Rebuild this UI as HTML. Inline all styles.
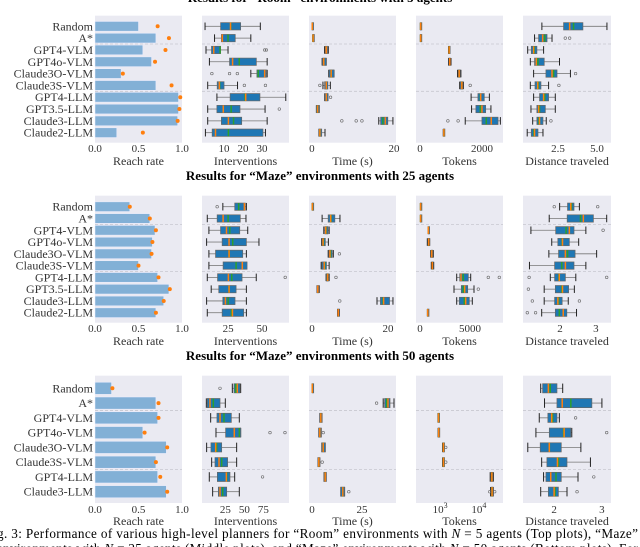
<!DOCTYPE html>
<html><head><meta charset="utf-8"><style>
body{margin:0;background:#fff;}
svg{display:block;font-family:"Liberation Serif",serif;}
</style></head><body>
<svg id="fig" width="640" height="547" viewBox="0 0 640 547" xmlns="http://www.w3.org/2000/svg">
<text x="320" y="2" text-anchor="middle" font-weight="bold" font-size="13">Results for “Room” environments with 5 agents</text>
<text x="320" y="180" text-anchor="middle" font-weight="bold" font-size="13">Results for “Maze” environments with 25 agents</text>
<text x="320" y="360" text-anchor="middle" font-weight="bold" font-size="13">Results for “Maze” environments with 50 agents</text>
<text x="-3" y="538" font-size="13.2" textLength="641" lengthAdjust="spacing">g. 3: Performance of various high-level planners for “Room” environments with <tspan font-style="italic">N</tspan> = 5 agents (Top plots), “Maze”</text>
<text x="-3" y="553" font-size="13.2" textLength="641" lengthAdjust="spacing">environments with <tspan font-style="italic">N</tspan> = 25 agents (Middle plots), and “Maze” environments with <tspan font-style="italic">N</tspan> = 50 agents (Bottom plots). For</text>
<g id="plots"></g>
</svg>
<script>
// ---- data ----
const cats10 = ["Random","A*","GPT4-VLM","GPT4o-VLM","Claude3O-VLM","Claude3S-VLM","GPT4-LLM","GPT3.5-LLM","Claude3-LLM","Claude2-LLM"];
const cats8 = ["Random","A*","GPT4-VLM","GPT4o-VLM","Claude3O-VLM","Claude3S-VLM","GPT4-LLM","Claude3-LLM"];
const xLabels = ["Reach rate","Interventions","Time (s)","Tokens","Distance traveled"];

// row 1: Room, 5 agents
const r1ReachBar = [0.5,0.7,0.55,0.65,0.3,0.7,0.96,0.96,0.95,0.25];
const r1ReachDot = [0.72,0.85,0.81,0.69,0.32,0.88,0.98,0.97,0.95,0.55];
// box: [whisLo, q1, median, q3, whisHi, mean, outliers]
const r1Interv = [
 [0,8.2,13.4,18.75,29.1,13.5,[]],[5,8.6,9.1,15.9,24.1,12.1,[]],[0.5,3.4,4.6,8.2,12.1,7.9,[31.4,32.3]],
 [2.3,12.9,14.5,27,32.7,18,[]],[24.1,27.3,31.4,32.3,32.7,28,[3.6,12.9,17]],[1.4,6.4,7.5,10,17.1,7.7,[20.7,31.8]],
 [6.25,13.2,21.4,28.9,42.5,21.1,[]],[1.4,6.25,9.6,18.4,31.6,13.75,[39.1]],[1.4,8.6,12.3,19.3,32.7,15,[]],
 [0.2,3.75,5.5,30.5,31.8,12.3,[]]];
const r1Time = [
 [0.05,0.05,0.1,0.2,0.2,0.1,[]],[0.2,0.25,0.3,0.35,0.4,0.3,[]],[3.1,3.3,3.5,3.8,4.0,3.5,[]],
 [2.5,2.6,2.9,3.5,3.5,2.9,[]],[4.1,4.2,4.7,5.4,5.4,4.7,[]],[2.7,3.1,3.5,3.9,4.5,3.5,[1.95]],
 [3.1,3.1,3.5,3.9,3.9,3.5,[4.55]],[1.1,1.1,1.4,1.8,1.8,1.4,[]],[16.3,16.75,17.9,18.5,19.75,17.3,[7.3,10.8,12.2]],
 [1.7,1.7,1.95,2.4,3.2,1.95,[]]];
const r1Tokens = [
 [10,10,20,30,30,20,[]],[10,10,20,30,30,20,[]],[920,925,940,955,960,940,[]],
 [920,930,960,980,1000,960,[]],[1210,1230,1265,1300,1320,1265,[]],[1280,1300,1350,1380,1400,1350,[1620]],
 [1650,1870,1960,2075,2240,1950,[]],[1665,1805,2000,2120,2290,1945,[]],[1460,2000,2300,2520,2595,2140,[900,1230]],
 [750,755,770,785,790,770,[]]];
const r1Dist = [
 [1.47,2.86,3.25,4.1,5.64,3.5,[]],[1.0,1.26,1.52,1.8,2.12,1.65,[2.97,3.25]],[0.56,0.79,0.94,1.15,1.58,0.98,[]],
 [0.73,1.0,1.11,1.62,2.6,1.22,[]],[0.94,1.73,2.12,2.44,3.3,2.22,[3.63]],[0.73,1.03,1.2,1.41,1.9,1.24,[2.56]],
 [0.94,1.32,1.58,1.9,2.33,1.65,[]],[0.77,1.15,1.26,1.69,2.33,1.32,[]],[0.88,1.15,1.32,1.54,1.75,1.28,[2.05]],
 [0.53,0.79,1.0,1.22,1.54,0.96,[]]];

// row 2: Maze, 25 agents
const r2ReachBar = [0.4,0.63,0.69,0.66,0.65,0.5,0.72,0.85,0.79,0.7];
const r2ReachDot = [0.4,0.63,0.7,0.66,0.65,0.5,0.73,0.86,0.79,0.7];
const r2Interv = [
 [21.1,29.9,37,37.7,38.5,32.8,[16.9]],[9.6,16.9,21.3,34,38.2,25,[]],[10.8,19.4,23.8,33.6,39.5,26.2,[]],
 [9.1,20.6,25.7,38.5,47.8,28.4,[]],[10.8,15.7,25.7,35.8,38.5,25.7,[]],[10.8,21.3,35.5,39,38.5,30.9,[]],
 [9.6,17.2,25.2,35.3,45.8,27.7,[67.2]],[12.5,18.1,25.7,30.9,38.5,25.7,[]],[9.1,21.1,23,30.1,38.5,25,[]],
 [9.6,20.6,28.2,36.5,38.5,27.5,[]]];
const r2Time = [
 [0.05,0.05,0.1,0.15,0.15,0.1,[]],[2.65,4.25,4.9,6.0,7.35,5.0,[]],[3.1,3.4,3.6,4.2,4.5,3.7,[]],
 [2.5,2.6,2.9,3.5,4.3,3.0,[]],[4.25,4.4,4.7,5.3,5.6,4.85,[7.2]],[2.4,2.6,3.2,3.8,4.5,3.3,[]],
 [3.7,3.8,4.1,4.3,4.5,4.1,[6.3]],[1.3,1.3,1.5,1.8,1.9,1.5,[]],[17.1,18,18.85,20.4,21.3,18.7,[7.3]],
 [6.7,6.7,6.9,7.2,7.2,6.9,[]]];
const r2Tokens = [
 [40,40,60,80,80,60,[]],[40,40,60,80,80,60,[]],[800,810,830,850,860,830,[]],
 [730,800,870,900,970,870,[]],[1070,1120,1170,1230,1330,1170,[]],[1130,1180,1230,1300,1370,1230,[]],
 [3670,3970,4100,4830,5070,4330,[6830,7930]],[3400,4130,4470,4770,5400,4330,[5830]],[3670,3930,4570,4930,5230,4430,[]],
 [740,750,770,790,800,770,[]]];
const r2Dist = [
 [1.99,2.21,2.3,2.39,2.54,2.32,[1.84,3.05]],[1.7,2.2,2.65,2.93,3.3,2.57,[]],[1.19,1.88,2.26,2.39,2.72,2.17,[3.2]],
 [1.77,1.94,2.07,2.26,2.52,2.06,[]],[1.69,1.96,2.15,2.42,3.02,2.21,[]],[1.15,1.85,2.15,2.39,2.72,2.05,[]],
 [1.73,1.85,1.98,2.15,2.44,1.97,[1.14,3.3]],[1.56,1.87,2.07,2.24,2.4,2.05,[1.12]],[1.56,1.85,1.94,2.06,2.23,1.96,[1.23,2.54]],
 [1.49,1.87,2.09,2.19,2.46,1.98,[1.09,1.32]]];

// row 3: Maze, 50 agents
const r3ReachBar = [0.19,0.7,0.72,0.55,0.82,0.7,0.72,0.82];
const r3ReachDot = [0.2,0.73,0.73,0.57,0.83,0.7,0.75,0.83];
const r3Interv = [
 [34.2,36.4,40.8,44.3,45.2,38.6,[18]],[0,1.3,4.8,18,25,9.2,[]],[5.7,14,18,32.9,43.4,23.2,[]],
 [12.7,25.4,36.8,45.2,45.2,43.4,[83.8,103.5]],[0.4,6.1,12.3,20.2,39.9,13.6,[]],[7,11.4,16.7,28,39.9,20.2,[]],
 [3.9,14.5,26.3,31.1,37.3,26.8,[74]],[8.3,15.8,18,26.8,43.4,21.5,[]]];
const r3Time = [
 [0.1,0.1,0.15,0.2,0.2,0.15,[]],[35.6,36.3,38,39,41,37.3,[32.3]],[3.9,3.9,4.4,5.0,5.0,4.4,[]],
 [3.4,3.4,3.9,4.6,4.6,3.9,[5.6]],[4.9,4.9,5.6,6.6,6.6,5.6,[]],[3.0,3.0,3.4,3.9,3.9,3.4,[5.1]],
 [6.0,6.0,6.6,7.1,7.1,6.6,[]],[14.4,14.4,15.4,16.3,16.3,15.4,[18.4]]];
const r3Tokens = [
 null,null,[880,890,910,930,940,910,[]],[890,900,920,940,950,920,[]],
 [1160,1180,1220,1260,1280,1220,[1400]],[1160,1180,1220,1260,1280,1220,[1400]],
 [19500,20500,21500,22500,23500,21500,[]],[20000,21000,21800,22600,23400,21800,[19000,25500]]];
const r3Dist = [
 [1.72,1.76,1.88,2.06,2.18,1.92,[]],[1.8,2.06,2.17,2.79,3.0,2.35,[]],[1.69,1.87,1.95,2.06,2.11,1.97,[2.45]],
 [1.62,1.9,2.21,2.35,2.37,2.2,[3.1]],[1.45,1.71,1.9,2.15,2.56,1.9,[]],[1.74,1.85,2.07,2.27,2.76,2.09,[]],
 [1.78,1.83,1.93,2.15,2.5,2.04,[2.83]],[1.72,1.88,2.0,2.09,2.27,2.02,[2.48]]];

// tick labels
const r1Ticks = [[0,0.5,1.0],[10,20,30],[0,20],[0,2000],[2.5,5.0]];
const r2Ticks = [[0,0.5,1.0],[25,50],[0,20],[0,5000],[2,3]];
const r3Ticks = [[0,0.5,1.0],[25,50,75],[0,25],[1000,10000],[2,3]];

// ---- layout (not data) ----
const NS = "http://www.w3.org/2000/svg";
const root = document.getElementById("plots");
const panelX = [[95,182],[202,289],[309,396],[416,503],[523,611]];
const rows = [
 {top:15.7,bot:142.7,first:26.3,sp:11.82,cats:cats10,tickY:152,labY:165,
  doms:[[0,1],[-1.6,44.2],[-0.7,20.5],[-130,2680],[0.26,5.9]],log:[0,0,0,0,0],
  reach:[r1ReachBar,r1ReachDot],boxes:[r1Interv,r1Time,r1Tokens,r1Dist],ticks:r1Ticks,name:"room-5"},
 {top:195.7,bot:322.7,first:206.7,sp:11.78,cats:cats10,tickY:332,labY:345,
  doms:[[0,1],[5.7,70],[-0.8,22.1],[-400,8300],[0.97,3.42]],log:[0,0,0,0,0],
  reach:[r2ReachBar,r2ReachDot],boxes:[r2Interv,r2Time,r2Tokens,r2Dist],ticks:r2Ticks,name:"maze-25"},
 {top:375.7,bot:503,first:388.3,sp:14.77,cats:cats8,tickY:513,labY:525,
  doms:[[0,1],[-5.7,108.8],[-1.5,42],[2.38,4.62],[1.35,3.19]],log:[0,0,0,1,0],
  reach:[r3ReachBar,r3ReachDot],boxes:[r3Interv,r3Time,r3Tokens,r3Dist],ticks:r3Ticks,name:"maze-50"}
];
function mk(tag, attrs, parent){
  const e=document.createElementNS(NS,tag);
  for(const k in attrs) e.setAttribute(k,attrs[k]);
  (parent||root).appendChild(e); return e;
}
function scale(row,p){
  const [a,b]=row.doms[p]; const [x0,x1]=panelX[p]; const lg=row.log[p];
  return v=>{const t=lg?Math.log10(v):v; return x0+(t-a)/(b-a)*(x1-x0);};
}
function fmtTick(v,p,ri){
  if(p===0||(ri===0&&p===4)) return v.toFixed(1);
  return String(v);
}
rows.forEach((row,ri)=>{
  const yc=i=>row.first+i*row.sp;
  for(let p=0;p<5;p++){
    const [x0,x1]=panelX[p];
    const g=mk("g",{});
    
    
    mk("rect",{x:x0,y:row.top,width:x1-x0,height:row.bot-row.top,fill:"#eaeaf2"},g);
    // dashed separators
    [1.5,5.5].forEach(s=>{
      const sy=yc(s);
      const l=mk("line",{x1:x0,x2:x1,y1:sy,y2:sy,stroke:"#c8c8d0","stroke-width":0.8,"stroke-dasharray":"3,2"},g);
      
      
    });
    const sx=scale(row,p);
    // tick labels
    row.ticks[p].forEach(tv=>{
      let t;
      if(row.log[p]){
        t=mk("text",{x:sx(tv),y:row.tickY,"text-anchor":"middle","font-size":11,fill:"#333"},g);
        t.textContent="10";
        const s=mk("tspan",{dy:-5,"font-size":8},t); s.textContent=String(Math.round(Math.log10(tv)));
      } else {
        t=mk("text",{x:sx(tv),y:row.tickY,"text-anchor":"middle","font-size":11,fill:"#333"},g);
        t.textContent=fmtTick(tv,p,ri);
      }
      
      
    });
    const xl=mk("text",{x:(x0+x1)/2,y:row.labY,"text-anchor":"middle","font-size":12,fill:"#333"},g);
    xl.textContent=xLabels[p];
    
    
    if(p===0){
      row.cats.forEach((c,i)=>{
        const lab=mk("text",{x:93,y:yc(i)+4,"text-anchor":"end","font-size":12,fill:"#333"},g);
        lab.textContent=c;
        
        
        const bh=row.sp*0.82;
        const bar=mk("rect",{x:sx(0),y:yc(i)-bh/2,width:sx(row.reach[0][i])-sx(0),height:bh,fill:"#82b0d6",stroke:"#eef",
          "stroke-width":0.5},g);
        
        
        const dot=mk("circle",{cx:sx(row.reach[1][i]),cy:yc(i),r:2,fill:"#ff7f0e"},g);
        
        
      });
    } else {
      const data=row.boxes[p-1];
      data.forEach((d,i)=>{
        if(!d) return;
        const y=yc(i), bh=row.sp*0.62, ch=row.sp*0.32;
        const bg=mk("g",{},g);
        
        
        mk("line",{x1:sx(d[0]),x2:sx(d[1]),y1:y,y2:y,stroke:"#777","stroke-width":0.8},bg);
        mk("line",{x1:sx(d[3]),x2:sx(d[4]),y1:y,y2:y,stroke:"#777","stroke-width":0.8},bg);
        mk("line",{x1:sx(d[0]),x2:sx(d[0]),y1:y-ch,y2:y+ch,stroke:"#222","stroke-width":1},bg);
        mk("line",{x1:sx(d[4]),x2:sx(d[4]),y1:y-ch,y2:y+ch,stroke:"#222","stroke-width":1},bg);
        const w=Math.max(sx(d[3])-sx(d[1]),1.5);
        mk("rect",{x:sx(d[1]),y:y-bh/2,width:w,height:bh,fill:"#1f77b4",stroke:"#666","stroke-width":0.7},bg);
        mk("line",{x1:sx(d[5]),x2:sx(d[5]),y1:y-bh/2,y2:y+bh/2,stroke:"#2ca02c","stroke-width":1.5},bg);
        mk("line",{x1:sx(d[2]),x2:sx(d[2]),y1:y-bh/2,y2:y+bh/2,stroke:"#ff7f0e","stroke-width":1.5},bg);
        d[6].forEach(o=>{
          mk("circle",{cx:sx(o),cy:y,r:1.3,fill:"none",stroke:"#666","stroke-width":0.6},bg);
        });
      });
    }
  }
});
</script>
</body></html>
